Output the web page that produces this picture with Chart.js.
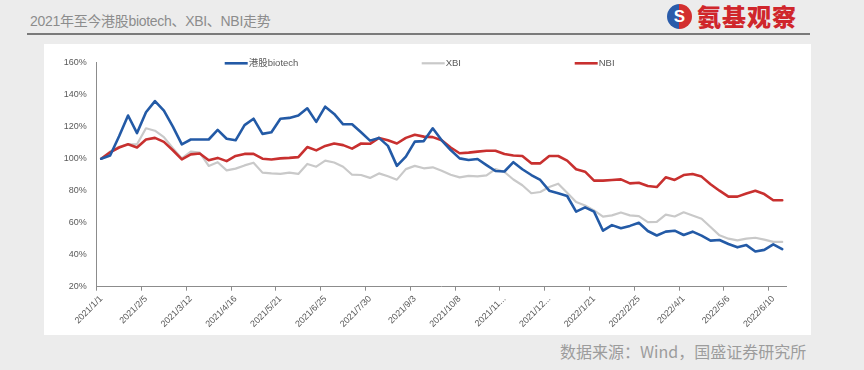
<!DOCTYPE html>
<html>
<head>
<meta charset="utf-8">
<script src="https://cdn.jsdelivr.net/npm/chart.js@4/dist/chart.umd.min.js"></script>
<style>
    body {
        margin: 0;
        width: 864px;
        height: 370px;
        position: relative;
        overflow: hidden;
        background: #ececec;
        font-family: "Liberation Sans", "Noto Sans CJK SC", sans-serif;
    }
    #title {
        position: absolute;
        left: 30px;
        top: 10px;
        font-size: 14px;
        color: #8c8c8c;
        letter-spacing: -0.3px;
    }
    #rule {
        position: absolute;
        left: 27px;
        top: 33px;
        width: 783px;
        height: 2px;
        background: #7a7a7a;
    }
    #logo {
        position: absolute;
        left: 667px;
        top: 3px;
        height: 26px;
        display: flex;
        align-items: center;
    }
    #logo .icon {
        width: 25px;
        height: 25px;
        border-radius: 50%;
        background: linear-gradient(90deg, #2a5caa 50%, #d32f2f 50%);
        color: #fff;
        font: bold 17px "Liberation Sans", sans-serif;
        text-align: center;
        line-height: 25px;
        margin-right: 5px;
    }
    #logo .name {
        font: 900 24px "Noto Sans CJK SC", sans-serif;
        color: #d0262b;
        letter-spacing: 1px;
        line-height: 26px;
    }
    #panel {
        position: absolute;
        left: 44px;
        top: 44px;
        width: 767px;
        height: 291px;
        background: #ffffff;
    }
    #source {
        position: absolute;
        left: 560px;
        top: 340px;
        font-family: "Noto Sans CJK SC", sans-serif;
        font-size: 16px;
        line-height: 23px;
        color: #9c9c9c;
        white-space: nowrap;
    }
</style>
</head>
<body>
<div id="title">2021年至今港股biotech、XBI、NBI走势</div>
<div id="rule"></div>
<div id="logo"><div class="icon">S</div><div class="name">氨基观察</div></div>
<div id="panel"><canvas id="chart" width="767" height="291"></canvas></div>
<div id="source">数据来源：Wind，国盛证券研究所</div>

<script>
// weekly dates (Fridays)
const categories = [
    '2021/1/1', '2021/1/8', '2021/1/15', '2021/1/22', '2021/1/29',
    '2021/2/5', '2021/2/12', '2021/2/19', '2021/2/26', '2021/3/5',
    '2021/3/12', '2021/3/19', '2021/3/26', '2021/4/2', '2021/4/9',
    '2021/4/16', '2021/4/23', '2021/4/30', '2021/5/7', '2021/5/14',
    '2021/5/21', '2021/5/28', '2021/6/4', '2021/6/11', '2021/6/18',
    '2021/6/25', '2021/7/2', '2021/7/9', '2021/7/16', '2021/7/23',
    '2021/7/30', '2021/8/6', '2021/8/13', '2021/8/20', '2021/8/27',
    '2021/9/3', '2021/9/10', '2021/9/17', '2021/9/24', '2021/10/1',
    '2021/10/8', '2021/10/15', '2021/10/22', '2021/10/29', '2021/11/5',
    '2021/11/12', '2021/11/19', '2021/11/26', '2021/12/3', '2021/12/10',
    '2021/12/17', '2021/12/24', '2021/12/31', '2022/1/7', '2022/1/14',
    '2022/1/21', '2022/1/28', '2022/2/4', '2022/2/11', '2022/2/18',
    '2022/2/25', '2022/3/4', '2022/3/11', '2022/3/18', '2022/3/25',
    '2022/4/1', '2022/4/8', '2022/4/15', '2022/4/22', '2022/4/29',
    '2022/5/6', '2022/5/13', '2022/5/20', '2022/5/27', '2022/6/3',
    '2022/6/10', '2022/6/17'
];

// 港股biotech
const hkBiotech = [
    100, 102, 114, 127, 116, 129, 136, 130, 120, 109,
    112, 112, 112, 118, 112.5, 111.5, 121, 125, 115.5, 116.5,
    125, 125.5, 127, 131.5, 123, 132.5, 128, 121.5, 121.5, 116.5,
    111.3, 113, 108, 95.5, 101.3, 110.7, 111, 119, 111.5, 105.4,
    100.2, 99.2, 99.8, 96, 92.3, 92, 97.8, 93.4, 89.8, 86.7,
    80, 78.4, 76.7, 66.9, 69.6, 66.9, 55, 58.5, 56.5, 58,
    60, 54.8, 52, 54.4, 55, 52.3, 54.4, 51.9, 48.8, 49.2,
    46.7, 44.6, 46, 42, 43, 46.5, 43.5
];

// XBI
const xbi = [
    100, 104.5, 107.5, 109, 109, 119, 117.5, 113.5, 106.5, 100.2,
    104.4, 103.8, 95.5, 97.8, 92.7, 93.8, 95.8, 97.5, 91.3, 90.8,
    90.5, 91.3, 90.5, 96.7, 95, 98.8, 97.6, 95, 90, 89.8,
    88, 90.8, 89, 86.9, 93.5, 95.5, 94, 94.6, 92.5, 90,
    88.3, 89.3, 89, 89.6, 93.5, 91.7, 87, 83.4, 78.4, 79.2,
    82.3, 84.4, 78.7, 72.9, 70.8, 67.7, 63.8, 64.6, 66.4, 64.6,
    64.1, 60.4, 60.5, 65, 63.9, 66.5, 64.5, 62.5, 57.3, 52.1,
    50, 49, 50, 50.6, 49.4, 48, 48
];

// NBI
const nbi = [
    100, 104, 107, 109, 107, 112, 113, 110.5, 105.3, 99.6,
    102.7, 103.2, 99, 100.5, 98.5, 101.7, 103, 103, 100, 99.5,
    100.2, 100.5, 101, 107.3, 105.2, 108, 109.5, 108.5, 106.3, 109.5,
    109.3, 113, 111.5, 109.5, 113, 115, 113.8, 113.5, 111.5, 107,
    103.4, 103.8, 104.4, 105, 105, 102.9, 102, 101.7, 97.1, 97.1,
    101.7, 101.7, 98.8, 93.4, 91.9, 86.3, 86.3, 86.7, 87.1, 84.6,
    85, 82.9, 82.3, 88.4, 86.7, 89.8, 90.4, 88.8, 84, 80,
    76.3, 76.3, 78.3, 80, 77.9, 74, 74
];

const yTicks = [20, 40, 60, 80, 100, 120, 140, 160];
const seriesNames = ['港股biotech', 'XBI', 'NBI'];
const seriesColors = ['#235aa6', '#c9c9c9', '#c8302f'];

const axisColor = '#8c8c8c';
const labelColor = '#595959';

// Excel-style truncation of long category labels
function shortLabel(text) {
    return text.length > 9 ? text.slice(0, 7) + '...' : text;
}

// legend drawn inside the top of the plot area
const inlineLegend = {
    id: 'inlineLegend',
    afterDraw(chart) {
        const ctx = chart.ctx;
        const area = chart.chartArea;
        const offsets = [128, 325, 478];
        ctx.save();
        chart.data.datasets.forEach((ds, i) => {
            const x = area.left + offsets[i];
            const y = area.top + 0.6;
            ctx.strokeStyle = ds.borderColor;
            ctx.lineWidth = ds.borderWidth;
            ctx.beginPath();
            ctx.moveTo(x, y);
            ctx.lineTo(x + 23, y);
            ctx.stroke();
            ctx.fillStyle = labelColor;
            ctx.font = '9.5px "Liberation Sans", "Noto Sans CJK SC", sans-serif';
            ctx.textBaseline = 'middle';
            ctx.textAlign = 'left';
            ctx.fillText(ds.label, x + 24, y);
        });
        ctx.restore();
    }
};

const ctx = document.getElementById('chart').getContext('2d');
new Chart(ctx, {
    type: 'line',
    data: {
        labels: categories,
        datasets: [
            { label: seriesNames[0], data: hkBiotech, borderColor: seriesColors[0], borderWidth: 2.6, order: 1 },
            { label: seriesNames[1], data: xbi, borderColor: seriesColors[1], borderWidth: 2.2, order: 3 },
            { label: seriesNames[2], data: nbi, borderColor: seriesColors[2], borderWidth: 2.6, order: 2 }
        ]
    },
    options: {
        responsive: false,
        animation: false,
        devicePixelRatio: 1,
        elements: {
            point: { radius: 0 },
            line: { tension: 0, borderJoinStyle: 'round', borderCapStyle: 'round' }
        },
        layout: {
            padding: { top: 18.7, right: 24.3, left: 0, bottom: 0 }
        },
        plugins: {
            legend: { display: false },
            tooltip: { enabled: false }
        },
        scales: {
            x: {
                type: 'category',
                offset: true,
                afterFit: scale => { scale.height = 48.3; },
                border: { color: axisColor, width: 1 },
                grid: {
                    offset: true,
                    drawOnChartArea: false,
                    drawTicks: true,
                    tickLength: 4,
                    color: c => (c.index % 5 === 0 ? axisColor : 'rgba(0,0,0,0)')
                },
                ticks: {
                    autoSkip: false,
                    maxRotation: 45,
                    minRotation: 45,
                    padding: 3,
                    color: labelColor,
                    font: { size: 9, family: '"Liberation Sans", sans-serif' },
                    callback: (value, index) => (index % 5 === 0 ? shortLabel(categories[index]) : '')
                }
            },
            y: {
                min: yTicks[0],
                max: yTicks[yTicks.length - 1],
                afterFit: scale => { scale.width = 52.7; },
                afterBuildTicks: scale => { scale.ticks = yTicks.map(v => ({ value: v })); },
                border: { color: axisColor, width: 1 },
                grid: { drawOnChartArea: false, drawTicks: false },
                ticks: {
                    padding: 10,
                    color: labelColor,
                    font: { size: 9, family: '"Liberation Sans", sans-serif' },
                    callback: value => value + '%'
                }
            }
        }
    },
    plugins: [inlineLegend]
});
</script>
</body>
</html>
